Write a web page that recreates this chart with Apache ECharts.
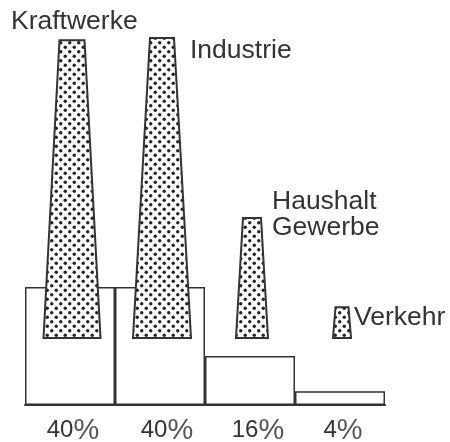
<!DOCTYPE html>
<html>
<head>
<meta charset="utf-8">
<style>
    html, body { margin: 0; padding: 0; background: #fff; }
    #chart { width: 450px; height: 442px; }
</style>
<script src="https://cdn.jsdelivr.net/npm/echarts@6/dist/echarts.min.js"></script>
</head>
<body>
<div id="chart"></div>
<script>
var shareNumbers = ['40', '40', '16', '4'];
var sectorNames = ['Kraftwerke', 'Industrie', 'Haushalt\nGewerbe', 'Verkehr'];
var barValues = [40, 40, 16.6, 4.7];
var chimneyValues = [39.7, 40, 16, 4.1];

var INK = '#333';
var FONT = '"Liberation Sans", Arial, sans-serif';

// chimney outline in pixels, [top width, bottom width]
var chimneyWidths = [[25, 57], [24, 58], [18, 32], [13, 18]];
// label position relative to the top centre of each chimney
var labelOffsets = [[-61, -19], [28, 13], [20, -3], [12, 10]];

// dotted raster of the chimneys
function dotPattern() {
    var size = 9;
    var cv = document.createElement('canvas');
    cv.width = size;
    cv.height = size;
    var ctx = cv.getContext('2d');
    ctx.fillStyle = '#fff';
    ctx.fillRect(0, 0, size, size);
    ctx.fillStyle = '#222';
    [[2.25, 2.25], [6.75, 6.75]].forEach(function (p) {
        ctx.beginPath();
        ctx.arc(p[0], p[1], 1.7, 0, Math.PI * 2);
        ctx.fill();
    });
    return { image: cv, repeat: 'repeat' };
}

var pattern = dotPattern();

function renderChimney(params, api) {
    var i = api.value(0);
    var base = api.coord([i, 0]);
    var top = api.coord([i, api.value(1)]);
    var w = chimneyWidths[i];
    var cx = base[0] + 2;
    return {
        type: 'group',
        children: [{
            type: 'polygon',
            shape: {
                points: [
                    [cx - w[0] / 2, top[1]],
                    [cx + w[0] / 2, top[1]],
                    [cx + w[1] / 2, base[1]],
                    [cx - w[1] / 2, base[1]]
                ]
            },
            style: { fill: pattern, stroke: INK, lineWidth: 2 }
        }, {
            type: 'text',
            x: cx + labelOffsets[i][0],
            y: top[1] + labelOffsets[i][1],
            style: {
                text: sectorNames[i],
                fill: INK,
                font: '26.5px ' + FONT,
                lineHeight: 26,
                textAlign: 'left',
                textVerticalAlign: 'middle'
            }
        }]
    };
}

var chart = echarts.init(document.getElementById('chart'), null, { renderer: 'canvas' });
chart.setOption({
    animation: false,
    backgroundColor: '#fff',
    grid: { left: 25, right: 65, top: 0, bottom: 37, outerBoundsMode: 'none' },
    xAxis: {
        type: 'category',
        data: shareNumbers,
        axisTick: { show: false },
        axisLine: { lineStyle: { color: INK, width: 2 } },
        axisLabel: {
            interval: 0,
            hideOverlap: false,
            margin: 11,
            formatter: function (value, index) {
                return '{s' + index + '|}{n|' + value + '}{p|%}';
            },
            rich: {
                n: { color: INK, fontFamily: FONT, fontSize: 24 },
                p: { color: '#555', fontFamily: FONT, fontSize: 29 },
                s0: { width: 6 },
                s1: { width: 14 },
                s2: { width: 16 },
                s3: { width: 6 }
            }
        }
    },
    yAxis: [
        { type: 'value', min: 0, max: 137.3, show: false },
        { type: 'value', min: -8.93, max: 45.07, show: false }
    ],
    series: [{
        type: 'bar',
        data: barValues,
        barWidth: '100%',
        itemStyle: { color: '#fff', borderColor: INK, borderWidth: 1.5 }
    }, {
        type: 'custom',
        yAxisIndex: 1,
        renderItem: renderChimney,
        encode: { x: 0, y: 1 },
        clip: false,
        data: chimneyValues.map(function (v, i) { return [i, v]; }),
        z: 5
    }]
});
</script>
</body>
</html>
